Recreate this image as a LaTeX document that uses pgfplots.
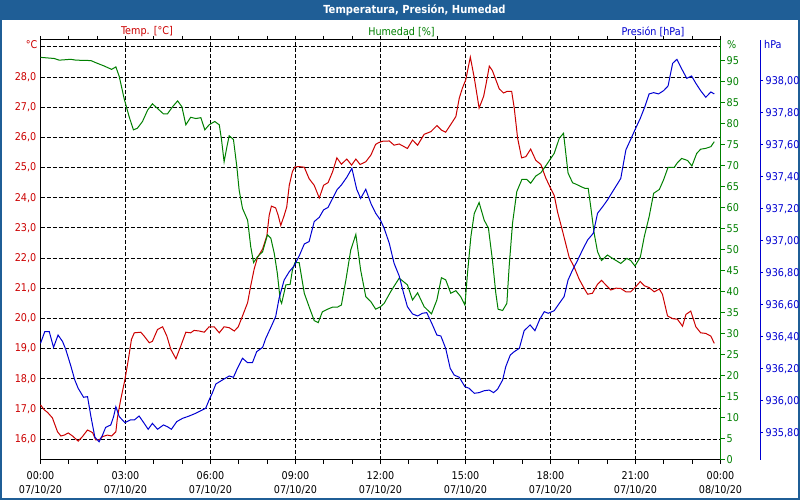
\documentclass[border=0pt]{standalone}
\usepackage{fontspec}
\setmainfont{DejaVu Sans Condensed}
\usepackage{pgfplots}
\pgfplotsset{compat=1.18}
\definecolor{tred}{RGB}{204,0,0}
\definecolor{tgreen}{RGB}{0,128,0}
\definecolor{tblue}{RGB}{0,0,210}
\definecolor{barblue}{RGB}{31,94,150}
\newcommand\fsz{\fontsize{10.7}{14.5}\selectfont}
\pgfplotsset{/pgf/number format/assume math mode=true}
\begin{document}
\begin{tikzpicture}[x=1pt,y=1pt]
\fill[barblue] (0,0) rectangle (800,500);
\fill[white] (2,2) rectangle (798,480);
\useasboundingbox (0,0) rectangle (800,500);
\node[text=white,font=\fontsize{11.1}{13}\selectfont\bfseries,inner sep=0pt] at (414.5,490) {Temperatura, Presión, Humedad};
\node[text=tred,font=\fsz,inner sep=0pt] at (147,468) {Temp. [°C]};
\node[text=tgreen,font=\fsz,inner sep=0pt] at (401.5,468) {Humedad [\%]};
\node[text=tblue,font=\fsz,inner sep=0pt] at (653,468) {Presión [hPa]};
\node[text=tred,font=\fsz,inner sep=0pt,anchor=east] at (37.5,455) {°C};
\node[text=tgreen,font=\fsz,inner sep=0pt,anchor=west] at (727,455) {\%};
\node[text=tblue,font=\fsz,inner sep=0pt,anchor=west] at (764,455) {hPa};

\begin{axis}[at={(40.5pt,40pt)}, anchor=south west, width=680pt, height=420pt, scale only axis,
  xmin=0, xmax=24, ymin=15.304, ymax=29.227,
  xtick={0,3,...,24},
  minor xtick={1,2,4,5,7,8,10,11,13,14,16,17,19,20,22,23},
  xticklabels={{00:00\\07/10/20},{03:00\\07/10/20},{06:00\\07/10/20},{09:00\\07/10/20},{12:00\\07/10/20},{15:00\\07/10/20},{18:00\\07/10/20},{21:00\\07/10/20},{00:00\\08/10/20}},
  xticklabel style={align=center, font=\fsz, inner sep=0pt, yshift=-7pt},
  ytick={16,...,29},
  yticklabels={{16,0},{17,0},{18,0},{19,0},{20,0},{21,0},{22,0},{23,0},{24,0},{25,0},{26,0},{27,0},{28,0},{}},
  yticklabel style={font=\fsz, text=tred, inner sep=0pt, anchor=east},
  tick align=outside, major tick length=4pt, minor tick length=4pt,
  ytick style={draw=none},
  xtick style={black, line width=1pt},
  every minor tick/.append style={black, line width=1pt},
  xmajorgrids, ymajorgrids,
  major grid style={black, line width=1pt, dash pattern=on 4pt off 2pt},
  axis line style={black, line width=1pt},
  clip=false]
\addplot[tred, line width=1pt, no marks] coordinates {
(0,17.13)(0.13,16.97)(0.25,16.88)(0.42,16.70)(0.60,16.24)(0.72,16.10)(0.84,16.13)(0.98,16.20)(1.13,16.10)(1.33,15.93)(1.48,16.08)(1.66,16.30)(1.84,16.21)(1.95,15.97)(2.07,15.97)(2.19,16.08)(2.36,16.13)(2.51,16.10)(2.66,16.24)(2.72,16.74)(2.83,17.30)(2.98,17.97)(3.10,18.63)(3.21,19.30)(3.31,19.52)(3.54,19.54)(3.66,19.41)(3.84,19.19)(3.95,19.24)(4.13,19.63)(4.31,19.72)(4.46,19.41)(4.60,18.97)(4.78,18.66)(4.95,19.08)(5.13,19.54)(5.30,19.52)(5.42,19.60)(5.60,19.58)(5.78,19.54)(5.95,19.72)(6.13,19.72)(6.31,19.52)(6.48,19.72)(6.66,19.69)(6.84,19.58)(6.98,19.72)(7.13,20.08)(7.31,20.52)(7.42,21.08)(7.54,21.63)(7.66,22.02)(7.84,22.30)(7.99,22.74)(8.07,23.41)(8.15,23.72)(8.30,23.66)(8.39,23.41)(8.48,23.08)(8.60,23.41)(8.69,23.69)(8.78,24.41)(8.89,24.86)(8.98,25.02)(9.13,25.03)(9.31,25.01)(9.48,24.63)(9.66,24.41)(9.84,23.99)(9.99,24.41)(10.15,24.50)(10.31,24.86)(10.46,25.32)(10.62,25.11)(10.81,25.28)(10.98,25.08)(11.13,25.28)(11.28,25.10)(11.48,25.19)(11.66,25.41)(11.83,25.77)(11.95,25.83)(12.07,25.87)(12.31,25.88)(12.48,25.74)(12.66,25.78)(12.95,25.63)(13.13,25.91)(13.31,25.74)(13.54,26.10)(13.78,26.19)(13.99,26.39)(14.15,26.24)(14.30,26.17)(14.51,26.47)(14.66,26.69)(14.78,27.30)(14.89,27.63)(15.01,27.91)(15.17,28.66)(15.31,27.97)(15.48,26.97)(15.64,27.36)(15.72,27.74)(15.84,28.36)(15.95,28.21)(16.07,27.91)(16.19,27.61)(16.34,27.47)(16.46,27.52)(16.63,27.52)(16.72,26.97)(16.84,25.97)(16.98,25.32)(17.13,25.36)(17.30,25.61)(17.48,25.24)(17.66,25.10)(17.83,24.66)(18.01,24.30)(18.13,24.08)(18.25,23.52)(18.42,22.91)(18.66,22.02)(18.84,21.69)(19.01,21.30)(19.19,20.99)(19.31,20.80)(19.48,20.83)(19.66,21.13)(19.80,21.26)(19.95,21.11)(20.13,20.94)(20.31,21.00)(20.48,20.99)(20.66,20.88)(20.83,20.88)(20.98,21.02)(21.17,21.22)(21.31,21.08)(21.48,21.02)(21.66,20.88)(21.84,20.97)(21.95,20.80)(22.13,20.08)(22.31,19.99)(22.48,19.97)(22.66,19.74)(22.78,20.13)(22.95,20.24)(23.13,19.72)(23.30,19.52)(23.48,19.50)(23.66,19.41)(23.78,19.17)
};
\end{axis}

\begin{axis}[at={(40.5pt,40pt)}, anchor=south west, width=680pt, height=420pt, scale only axis,
  xmin=0, xmax=24, ymin=0, ymax=100,
  axis x line=none, axis y line*=right,
  ytick={0,5,...,95},
  yticklabel style={font=\fsz, text=tgreen, inner sep=0pt, anchor=west, xshift=2pt},
  y axis line style={tgreen, line width=1pt},
  ytick style={tgreen, line width=1pt},
  tick align=outside, major tick length=4pt,
  clip=false]
\addplot[tgreen, line width=1pt, no marks] coordinates {
(0,95.87)(0.48,95.6)(0.66,95.2)(1.07,95.4)(1.25,95.2)(1.78,95.1)(1.95,94.6)(2.25,93.8)(2.51,93.0)(2.66,93.6)(2.78,91.3)(2.95,86.1)(3.13,81.7)(3.28,78.6)(3.42,79.0)(3.60,80.6)(3.78,83.3)(3.95,84.8)(4.13,83.7)(4.34,82.4)(4.48,82.4)(4.66,84.1)(4.84,85.5)(4.99,84.1)(5.13,79.8)(5.30,81.6)(5.48,81.3)(5.66,81.5)(5.80,78.6)(5.95,79.8)(6.15,80.6)(6.31,79.8)(6.39,76.2)(6.48,71.0)(6.58,74.6)(6.66,77.2)(6.81,76.3)(6.93,69.8)(7.01,64.3)(7.13,59.9)(7.31,57.1)(7.42,50.8)(7.52,47.0)(7.66,48.4)(7.84,49.6)(8.01,53.6)(8.13,52.8)(8.25,49.2)(8.36,44.4)(8.46,38.1)(8.51,37.3)(8.66,41.7)(8.81,41.8)(8.89,45.2)(8.98,47.0)(9.13,47.0)(9.31,39.7)(9.48,36.5)(9.66,33.2)(9.80,32.7)(9.95,35.3)(10.13,35.9)(10.31,36.4)(10.48,36.4)(10.62,36.9)(10.78,42.9)(10.95,50.0)(11.13,53.7)(11.30,45.2)(11.48,38.9)(11.66,37.7)(11.83,35.9)(12.00,36.5)(12.13,37.3)(12.36,40.1)(12.66,43.3)(12.95,41.7)(13.13,38.1)(13.31,39.8)(13.54,36.5)(13.80,34.8)(13.99,38.1)(14.15,43.4)(14.30,42.9)(14.48,39.7)(14.66,40.3)(14.83,38.9)(14.98,36.9)(15.07,44.4)(15.19,53.2)(15.31,58.7)(15.48,61.3)(15.66,57.1)(15.81,55.2)(15.95,47.6)(16.07,39.7)(16.15,35.9)(16.31,35.6)(16.46,37.3)(16.54,46.0)(16.66,56.4)(16.81,63.9)(16.99,66.8)(17.16,66.8)(17.30,65.9)(17.48,67.6)(17.66,68.4)(17.83,70.0)(17.89,70.6)(18.13,73.0)(18.31,76.6)(18.46,77.8)(18.54,73.0)(18.62,68.3)(18.78,66.0)(18.89,65.7)(19.07,65.1)(19.21,64.7)(19.33,64.7)(19.42,60.3)(19.54,54.0)(19.66,49.6)(19.80,47.5)(20.01,48.8)(20.19,48.0)(20.48,46.8)(20.69,48.0)(20.83,47.5)(20.98,46.2)(21.17,48.3)(21.31,53.2)(21.48,57.9)(21.64,63.5)(21.84,64.4)(21.99,66.7)(22.15,69.7)(22.37,69.7)(22.48,70.8)(22.63,71.8)(22.84,71.3)(22.99,70.0)(23.16,73.0)(23.30,74.0)(23.48,74.2)(23.66,74.6)(23.78,75.8)
};
\end{axis}

\begin{axis}[at={(40.5pt,40pt)}, anchor=south west, width=680pt, height=420pt, scale only axis,
  xmin=0, xmax=24, ymin=935.631, ymax=938.256,
  axis x line=none, axis y line*=right,
  ytick={935.8,936.0,936.2,936.4,936.6,936.8,937.0,937.2,937.4,937.6,937.8,938.0},
  yticklabel style={font=\fsz, text=tblue, inner sep=0pt, anchor=west, xshift=42pt,
    /pgf/number format/.cd, fixed, fixed zerofill, precision=2, use comma, 1000 sep={}},
  y axis line style={tblue, line width=1pt, xshift=39.5pt},
  ytick style={tblue, line width=1pt, xshift=39.5pt},
  tick align=outside, major tick length=3pt,
  clip=false]
\addplot[tblue, line width=1pt, no marks] coordinates {
(0,936.360)(0.15,936.433)(0.31,936.433)(0.46,936.335)(0.62,936.412)(0.78,936.371)(0.89,936.323)(1.07,936.219)(1.21,936.131)(1.33,936.079)(1.52,936.023)(1.66,936.027)(1.78,935.902)(1.92,935.773)(2.07,935.745)(2.19,935.787)(2.30,935.835)(2.48,935.850)(2.58,935.902)(2.66,935.964)(2.78,935.902)(2.98,935.864)(3.17,935.881)(3.31,935.881)(3.48,935.906)(3.66,935.860)(3.80,935.823)(3.95,935.860)(4.13,935.823)(4.34,935.850)(4.48,935.839)(4.62,935.823)(4.81,935.871)(5.01,935.891)(5.25,935.906)(5.48,935.923)(5.66,935.939)(5.83,935.954)(5.95,936.006)(6.07,936.052)(6.19,936.106)(6.42,936.131)(6.66,936.156)(6.81,936.148)(6.95,936.204)(7.13,936.267)(7.31,936.239)(7.48,936.239)(7.63,936.308)(7.84,936.335)(7.95,936.391)(8.13,936.460)(8.30,936.527)(8.42,936.641)(8.60,936.756)(8.78,936.808)(8.95,936.844)(9.13,936.906)(9.31,936.981)(9.48,936.996)(9.66,937.121)(9.84,937.148)(9.99,937.194)(10.15,937.210)(10.31,937.266)(10.46,937.319)(10.62,937.350)(10.81,937.398)(10.99,937.454)(11.16,937.323)(11.30,937.266)(11.48,937.323)(11.66,937.235)(11.83,937.173)(12.00,937.130)(12.13,937.079)(12.31,936.985)(12.48,936.860)(12.66,936.781)(12.81,936.677)(12.95,936.589)(13.13,936.544)(13.31,936.531)(13.48,936.548)(13.63,936.552)(13.80,936.489)(13.99,936.412)(14.13,936.406)(14.30,936.329)(14.46,936.204)(14.60,936.162)(14.78,936.148)(14.98,936.089)(15.13,936.079)(15.31,936.048)(15.48,936.052)(15.66,936.064)(15.84,936.068)(15.99,936.052)(16.13,936.073)(16.31,936.131)(16.42,936.214)(16.58,936.287)(16.72,936.308)(16.90,936.329)(17.07,936.439)(17.28,936.475)(17.45,936.439)(17.62,936.510)(17.78,936.558)(17.92,936.548)(18.13,936.564)(18.31,936.610)(18.48,936.652)(18.62,936.756)(18.78,936.819)(18.95,936.877)(19.13,936.944)(19.31,937.006)(19.51,937.048)(19.66,937.173)(19.84,937.214)(20.01,937.256)(20.19,937.308)(20.36,937.356)(20.48,937.391)(20.66,937.569)(20.82,937.631)(20.98,937.694)(21.17,937.767)(21.33,937.839)(21.48,937.919)(21.64,937.927)(21.81,937.919)(21.99,937.939)(22.15,937.969)(22.31,938.110)(22.46,938.135)(22.62,938.079)(22.81,938.016)(22.98,938.031)(23.13,937.985)(23.30,937.939)(23.48,937.898)(23.66,937.931)(23.78,937.919)
};
\end{axis}
\end{tikzpicture}
\end{document}
